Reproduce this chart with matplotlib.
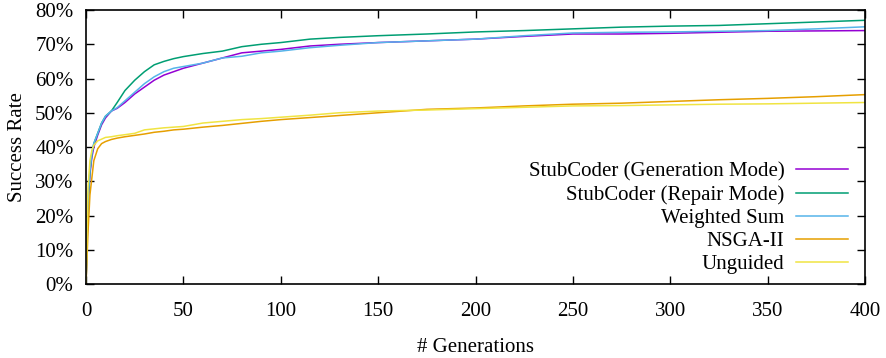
import matplotlib
matplotlib.use("Agg")
import matplotlib.pyplot as plt
from matplotlib.ticker import FuncFormatter, MultipleLocator

plt.rcParams["font.family"] = ["Liberation Serif", "DejaVu Serif"]
plt.rcParams["font.size"] = 15

# generation checkpoints
generations = [0, 1, 2, 3, 4, 6, 8, 10, 13, 16, 20, 25, 30, 35, 40, 45, 50, 60, 70, 80,
               90, 100, 115, 130, 150, 175, 200, 225, 250, 275, 300, 325, 350, 375, 400]

# success rate (%) per series
gen_mode = [0, 22, 32, 37, 40, 43.5, 46.5, 48.5, 50.5, 51.3, 53, 55.5, 57.5, 59.5, 61, 62, 63, 64.5, 66, 67.5,
            68, 68.5, 69.5, 70, 70.5, 71, 71.5, 72.3, 73, 73, 73.2, 73.5, 73.8, 73.9, 74]
repair_mode = [0, 24, 33, 38, 41, 44, 47, 49, 50.5, 53, 56.5, 59.5, 62, 64, 65, 65.8, 66.4, 67.3, 68, 69.3,
               70, 70.5, 71.5, 72, 72.5, 73, 73.6, 74, 74.5, 75, 75.3, 75.5, 76, 76.5, 77]
weighted_sum = [0, 24, 33, 38, 41, 44, 47, 49, 50.5, 51.5, 53.5, 56, 58.5, 60.5, 62, 63, 63.5, 64.5, 66, 66.5,
                67.5, 68, 69, 69.7, 70.5, 71, 71.5, 72.5, 73.3, 73.5, 73.6, 73.8, 74, 74.5, 75.1]
nsga2 = [0, 15, 26, 31, 36, 39.5, 41, 41.6, 42.2, 42.6, 43, 43.4, 43.8, 44.3, 44.6, 45, 45.2, 45.8, 46.3, 46.9,
         47.5, 48, 48.6, 49.2, 50, 51, 51.4, 52, 52.5, 52.8, 53.3, 53.8, 54.2, 54.7, 55.3]
unguided = [0, 28, 36, 39, 40.5, 41.8, 42.3, 42.8, 43, 43.3, 43.6, 44, 45, 45.3, 45.6, 45.8, 46, 47, 47.5, 48,
            48.3, 48.7, 49.3, 50, 50.5, 50.8, 51.2, 51.6, 52, 52.1, 52.3, 52.5, 52.6, 52.8, 53]

series = [
    ("StubCoder (Generation Mode)", gen_mode, "#9400d3"),
    ("StubCoder (Repair Mode)", repair_mode, "#009e73"),
    ("Weighted Sum", weighted_sum, "#56b4e9"),
    ("NSGA-II", nsga2, "#e69f00"),
    ("Unguided", unguided, "#f0e442"),
]

fig = plt.figure(figsize=(8.86, 3.58), dpi=100)
ax = fig.add_axes([0.0971, 0.2067, 0.8792, 0.7653])

for label, values, color in series:
    ax.plot(generations, values, color=color, lw=1.1, label=label)

ax.set_xlim(0, 400)
ax.set_ylim(0, 80)
ax.xaxis.set_major_locator(MultipleLocator(50))
ax.yaxis.set_major_locator(MultipleLocator(10))
ax.yaxis.set_major_formatter(FuncFormatter(lambda v, _: f"{v:.0f}%"))
ax.tick_params(direction="in", length=6, width=1, top=True, right=True)
ax.tick_params(axis="x", pad=13)
ax.tick_params(axis="y", pad=9)
for spine in ax.spines.values():
    spine.set_linewidth(1.2)

ax.set_xlabel("# Generations", labelpad=12)
ax.set_ylabel("Success Rate", labelpad=6)

ax.legend(loc="lower right", bbox_to_anchor=(0.978, 0.035), frameon=False, markerfirst=False,
          handlelength=2.5, handletextpad=0.55, labelspacing=0.17, borderaxespad=0, borderpad=0)

fig.savefig("out.png", dpi=100)
